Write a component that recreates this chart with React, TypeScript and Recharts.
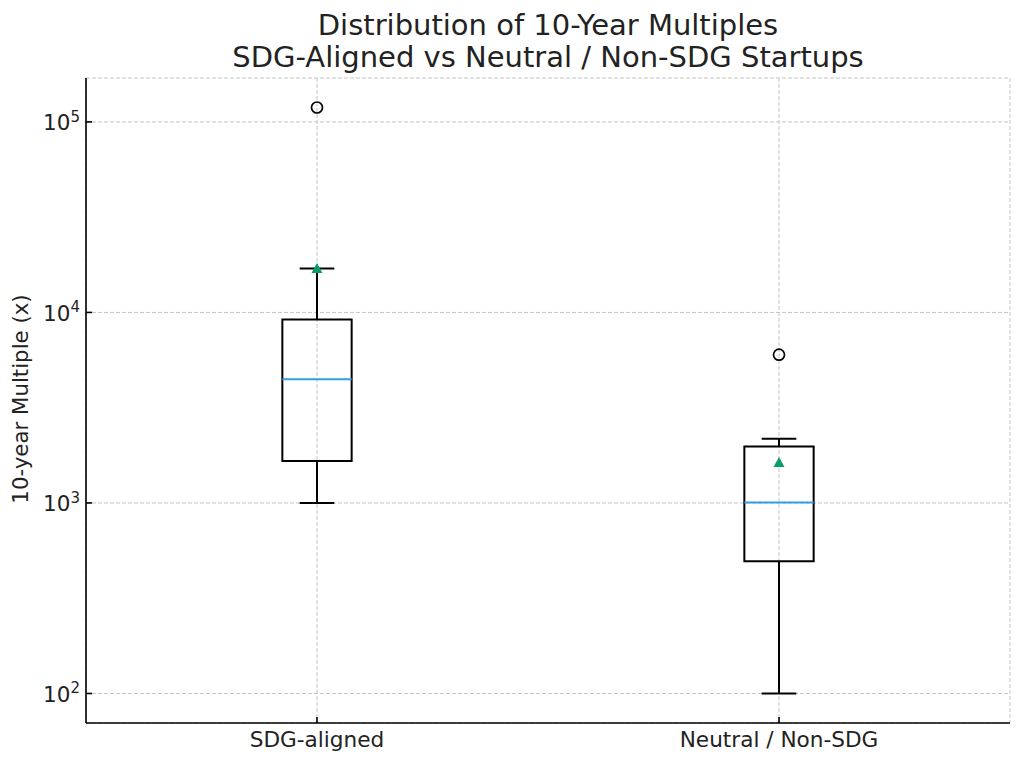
import React from "react"
import { ComposedChart, XAxis, YAxis, CartesianGrid, ReferenceArea, ReferenceLine, Scatter } from "recharts"

// box statistics per group
const categories = ["SDG-aligned", "Neutral / Non-SDG"]
const positions = [1, 2]
const q1Values = [1660, 495]
const medianValues = [4460, 1005]
const q3Values = [9190, 1980]
const whiskerLow = [1000, 100]
const whiskerHigh = [17000, 2170]
const meanValues = [17000, 1630]
const outlierValues = [[119000], [6000]]

const yTicks = [100, 1000, 10000, 100000]
const yMinorTicks = [
  80, 90,
  200, 300, 400, 500, 600, 700, 800, 900,
  2000, 3000, 4000, 5000, 6000, 7000, 8000, 9000,
  20000, 30000, 40000, 50000, 60000, 70000, 80000, 90000,
]

const FONT = "DejaVu Sans"
const TEXT = "#222"
const BOX_HALF = 0.075
const CAP_HALF = 0.0375

const outlierPoints = positions.flatMap((p, i) => outlierValues[i].map((v) => ({ x: p, y: v })))
const meanPoints = positions.map((p, i) => ({ x: p, y: meanValues[i] }))

const PowerTick = ({ x, y, payload }: any) => {
  const exp = Math.round(Math.log10(payload.value))
  return (
    <text x={x - 12} y={y + 8.5} textAnchor="end" fontFamily={FONT} fontSize={21.5} fill={TEXT}>
      10
      <tspan dy={-8.5} fontSize={15}>
        {exp}
      </tspan>
    </text>
  )
}

const CategoryTick = ({ x, y, payload }: any) => (
  <text x={x} y={y + 30} textAnchor="middle" fontFamily={FONT} fontSize={21.6} fill={TEXT}>
    {categories[positions.indexOf(payload.value)]}
  </text>
)

const OpenCircle = (props: any) => {
  const { cx, cy } = props
  return <circle cx={cx} cy={cy} r={5.5} fill="none" stroke="#000" strokeWidth={1.7} />
}

const MeanTriangle = (props: any) => {
  const { cx, cy } = props
  return <path d={`M${cx},${cy - 5.5} L${cx + 5.5},${cy + 4.5} L${cx - 5.5},${cy + 4.5} Z`} fill="#0a9a6c" />
}

export default function App() {
  return (
    <div style={{ position: "absolute", left: 0, top: 0, width: 1024, height: 765, background: "#fff" }}>
      <ComposedChart width={1024} height={765} margin={{ top: 78, right: 14, bottom: 0, left: 0 }}>
        <CartesianGrid stroke="#c4c4c4" strokeDasharray="4 2" strokeWidth={1} />
        <XAxis
          type="number"
          dataKey="x"
          domain={[0.5, 2.5]}
          ticks={positions}
          height={42}
          tickSize={-6}
          tickMargin={0}
          tick={<CategoryTick />}
          axisLine={{ stroke: "#000", strokeWidth: 1.6 }}
          tickLine={{ stroke: "#000", strokeWidth: 1.6 }}
        />
        <YAxis
          yAxisId="minor"
          scale="log"
          domain={[70, 170000]}
          allowDataOverflow
          ticks={yMinorTicks}
          width={0}
          tickSize={-3.5}
          tick={false}
          axisLine={false}
          tickLine={{ stroke: "#000", strokeWidth: 1.2 }}
        />
        <YAxis
          dataKey="y"
          scale="log"
          domain={[70, 170000]}
          allowDataOverflow
          ticks={yTicks}
          width={86}
          tickSize={-6}
          tickMargin={0}
          tick={<PowerTick />}
          axisLine={{ stroke: "#000", strokeWidth: 1.6 }}
          tickLine={{ stroke: "#000", strokeWidth: 1.6 }}
        />

        {positions.map((p, i) => (
          <ReferenceArea
            key={`box-${i}`}
            x1={p - BOX_HALF}
            x2={p + BOX_HALF}
            y1={q1Values[i]}
            y2={q3Values[i]}
            fill="none"
            stroke="#000"
            strokeWidth={2}
          />
        ))}
        {positions.map((p, i) => (
          <ReferenceLine
            key={`wlo-${i}`}
            segment={[{ x: p, y: q1Values[i] }, { x: p, y: whiskerLow[i] }]}
            stroke="#000"
            strokeWidth={2}
          />
        ))}
        {positions.map((p, i) => (
          <ReferenceLine
            key={`whi-${i}`}
            segment={[{ x: p, y: q3Values[i] }, { x: p, y: whiskerHigh[i] }]}
            stroke="#000"
            strokeWidth={2}
          />
        ))}
        {positions.map((p, i) => (
          <ReferenceLine
            key={`clo-${i}`}
            segment={[{ x: p - CAP_HALF, y: whiskerLow[i] }, { x: p + CAP_HALF, y: whiskerLow[i] }]}
            stroke="#000"
            strokeWidth={2}
          />
        ))}
        {positions.map((p, i) => (
          <ReferenceLine
            key={`chi-${i}`}
            segment={[{ x: p - CAP_HALF, y: whiskerHigh[i] }, { x: p + CAP_HALF, y: whiskerHigh[i] }]}
            stroke="#000"
            strokeWidth={2}
          />
        ))}
        {positions.map((p, i) => (
          <ReferenceLine
            key={`med-${i}`}
            segment={[{ x: p - BOX_HALF, y: medianValues[i] }, { x: p + BOX_HALF, y: medianValues[i] }]}
            stroke="#2f9fe6"
            strokeWidth={2}
          />
        ))}

        <Scatter data={outlierPoints} dataKey="y" shape={OpenCircle} isAnimationActive={false} />
        <Scatter data={meanPoints} dataKey="y" shape={MeanTriangle} isAnimationActive={false} />
      </ComposedChart>

      <svg width={1024} height={765} style={{ position: "absolute", left: 0, top: 0, pointerEvents: "none" }}>
        <text x={548} y={35} textAnchor="middle" fontFamily={FONT} fontSize={29} fill={TEXT}>
          Distribution of 10-Year Multiples
        </text>
        <text x={548} y={67} textAnchor="middle" fontFamily={FONT} fontSize={29} fill={TEXT}>
          SDG-Aligned vs Neutral / Non-SDG Startups
        </text>
        <text transform="translate(28,399) rotate(-90)" textAnchor="middle" fontFamily={FONT} fontSize={21.3} fill={TEXT}>
          10-year Multiple (x)
        </text>
      </svg>
    </div>
  )
}
